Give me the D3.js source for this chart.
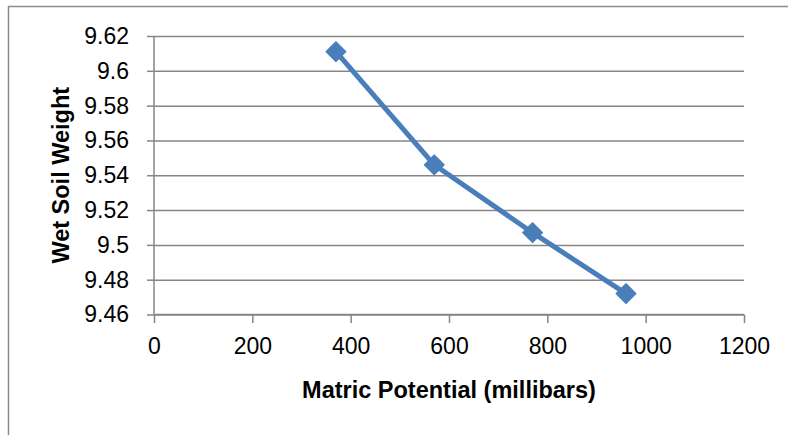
<!DOCTYPE html>
<html>
<head>
<meta charset="utf-8">
<title>Wet Soil Weight vs Matric Potential</title>
<script src="https://cdnjs.cloudflare.com/ajax/libs/d3/7.8.5/d3.min.js"></script>
<style>
  body { margin: 0; background: #fff; }
  svg { display: block; }
</style>
</head>
<body>
<svg id="chart" width="788" height="435"></svg>
<script>
// data
var potential = [370, 570, 770, 960];
var soilWeight = [9.611, 9.546, 9.507, 9.472];
var xTicks = [0, 200, 400, 600, 800, 1000, 1200];
var yTicks = [9.46, 9.48, 9.5, 9.52, 9.54, 9.56, 9.58, 9.6, 9.62];
var xTitle = "Matric Potential (millibars)";
var yTitle = "Wet Soil Weight";

var svg = d3.select("#chart");
var plot = { left: 154, right: 744, top: 36, bottom: 314.5 };
var gridColor = "#868686";
var blue = "#4a7ebb";

// outer chart border (runs off the right and bottom edge)
svg.append("rect")
  .attr("x", 8.5).attr("y", 6.5)
  .attr("width", 800).attr("height", 450)
  .attr("fill", "none").attr("stroke", "#8c8c8c").attr("stroke-width", 1.5);

var x = d3.scaleLinear().domain([0, 1200]).range([plot.left, plot.right]);
var y = d3.scaleLinear().domain([9.46, 9.62]).range([plot.bottom, plot.top]);

// horizontal gridlines + y axis
var yAxis = d3.axisLeft(y)
  .tickValues(yTicks)
  .tickSize(7)
  .tickPadding(18)
  .tickFormat(function(d) { return String(+d.toFixed(2)); });

var gy = svg.append("g").attr("transform", "translate(" + plot.left + ",0)").call(yAxis);
gy.selectAll(".tick line").clone()
  .attr("x2", plot.right - plot.left);
gy.selectAll("line, path").attr("stroke", gridColor).attr("stroke-width", 1.5);
gy.select(".domain").attr("d", "M0," + plot.top + "V" + plot.bottom);
gy.selectAll("text")
  .attr("fill", "#000")
  .style("font-family", "'Liberation Sans', Arial, sans-serif")
  .style("font-size", "23px");

// x axis
var xAxis = d3.axisBottom(x)
  .tickValues(xTicks)
  .tickSize(8.5)
  .tickPadding(15)
  .tickFormat(d3.format("d"));

var gx = svg.append("g").attr("transform", "translate(0," + plot.bottom + ")").call(xAxis);
gx.selectAll("line, path").attr("stroke", gridColor).attr("stroke-width", 1.5);
gx.select(".domain").attr("d", "M" + plot.left + ",0H" + plot.right);
gx.selectAll("text")
  .attr("fill", "#000")
  .style("font-family", "'Liberation Sans', Arial, sans-serif")
  .style("font-size", "23px");

// axis titles
svg.append("text")
  .attr("x", (plot.left + plot.right) / 2)
  .attr("y", 398)
  .attr("text-anchor", "middle")
  .style("font-family", "'Liberation Sans', Arial, sans-serif")
  .style("font-weight", "bold")
  .style("font-size", "23.5px")
  .text(xTitle);

svg.append("text")
  .attr("transform", "translate(69," + (plot.top + plot.bottom) / 2 + ") rotate(-90)")
  .attr("text-anchor", "middle")
  .style("font-family", "'Liberation Sans', Arial, sans-serif")
  .style("font-weight", "bold")
  .style("font-size", "23.5px")
  .text(yTitle);

// series line
var pts = potential.map(function(p, i) { return [p, soilWeight[i]]; });
var line = d3.line()
  .x(function(d) { return x(d[0]); })
  .y(function(d) { return y(d[1]); });

svg.append("path")
  .datum(pts)
  .attr("d", line)
  .attr("fill", "none")
  .attr("stroke", blue)
  .attr("stroke-width", 5)
  .attr("stroke-linejoin", "round");

// diamond markers
var diamond = d3.symbol().type(d3.symbolSquare).size(200);
svg.selectAll(".marker")
  .data(pts)
  .enter().append("path")
  .attr("class", "marker")
  .attr("d", diamond)
  .attr("transform", function(d) { return "translate(" + x(d[0]) + "," + y(d[1]) + ") rotate(45)"; })
  .attr("fill", blue)
  .attr("stroke", blue)
  .attr("stroke-width", 1)
  .attr("stroke-linejoin", "round");
</script>
</body>
</html>
